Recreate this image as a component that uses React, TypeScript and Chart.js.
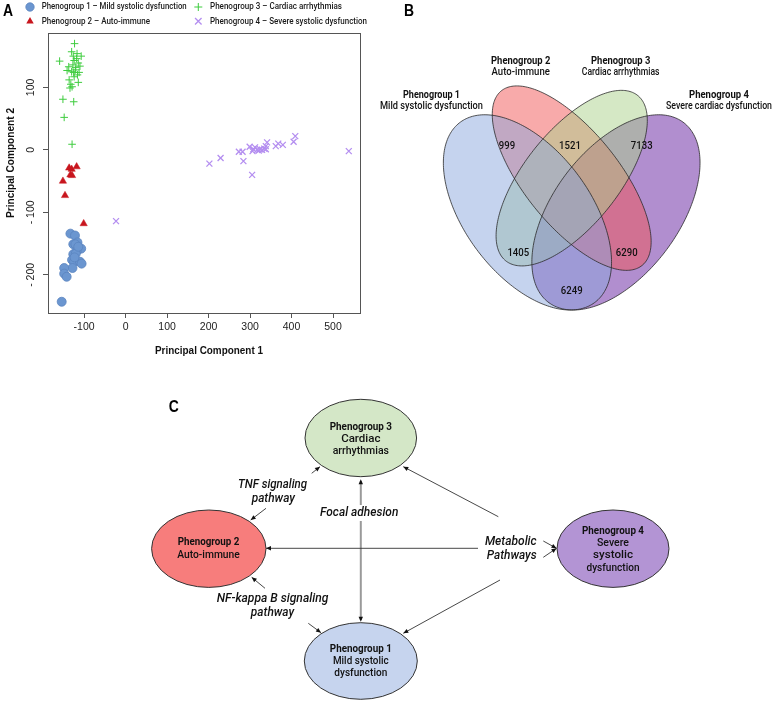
import React, { useEffect, useRef } from 'react';
import { Chart, registerables } from 'chart.js';

Chart.register(...registerables);

// ---------------- Panel A data ----------------
const pg1Points: [number, number][] = [
  [-133, -134], [-122, -137], [-116, -148], [-126, -151], [-121, -151], [-107, -158],
  [-118, -162], [-126, -167], [-120, -166], [-129, -176], [-124, -179], [-110, -179],
  [-106, -182], [-128, -189], [-148, -189], [-148, -198], [-142, -203], [-154, -243],
  [-114, -155], [-123, -172],
];
const pg2Points: [number, number][] = [
  [-136, -29], [-130, -31], [-118, -27], [-133, -40], [-129, -41], [-151, -50], [-146, -73], [-101, -118],
];
const pg3Points: [number, number][] = [
  [-123, 170], [-159, 142], [-130, 157], [-117, 154], [-107, 150], [-126, 150], [-124, 143],
  [-114, 139], [-110, 134], [-137, 133], [-120, 132], [-141, 127], [-130, 125], [-125, 124],
  [-112, 124], [-124, 117], [-136, 112], [-114, 108], [-132, 105], [-129, 101], [-134, 99],
  [-151, 81], [-125, 77], [-148, 52], [-129, 9], [-118, 146], [-121, 128], [-116, 120], [-127, 136],
];
const pg4Points: [number, number][] = [
  [-23, -114], [202, -22], [229, -13], [273, -3], [282, -3], [284, -18], [299, 5], [306, -2],
  [305, -40], [312, 4], [317, 0], [324, 1], [329, 0], [334, 2], [338, 1], [341, 12], [338, 6],
  [362, 6], [368, 10], [379, 8], [405, 13], [409, 22], [538, -2], [308, 1], [321, -1],
];
const xTicks = [-100, 0, 100, 200, 300, 400, 500];
const yTicks = [-200, -100, 0, 100];
const legendLabels = [
  'Phenogroup 1 – Mild systolic dysfunction',
  'Phenogroup 2 – Auto-immune',
  'Phenogroup 3 – Cardiac arrhythmias',
  'Phenogroup 4 – Severe systolic dysfunction',
];
const xTitle = 'Principal Component 1';
const yTitle = 'Principal Component 2';

// ---------------- Panel B data ----------------
const vennNames = ['Phenogroup 1', 'Phenogroup 2', 'Phenogroup 3', 'Phenogroup 4'];
const vennDescs = ['Mild systolic dysfunction', 'Auto-immune', 'Cardiac arrhythmias', 'Severe cardiac dysfunction'];
const vennPairs = ['1&2', '2&3', '3&4', '1&3', '2&4', '1&4'];
const vennCounts = [999, 1521, 7133, 1405, 6290, 6249];

// ---------------- Panel C data ----------------
const nodeTitles = ['Phenogroup 1', 'Phenogroup 2', 'Phenogroup 3', 'Phenogroup 4'];
const nodeLines = [
  ['Mild systolic', 'dysfunction'],
  ['Auto-immune'],
  ['Cardiac', 'arrhythmias'],
  ['Severe', 'systolic', 'dysfunction'],
];
const pathwayTNF = ['TNF signaling', 'pathway'];
const pathwayNFkB = ['NF-kappa B signaling', 'pathway'];
const pathwayFocal = ['Focal adhesion'];
const pathwayMetabolic = ['Metabolic', 'Pathways'];

// ---------------- styling ----------------
const DIN = 'Roboto, "Noto Sans", sans-serif';
const ARIAL = '"Liberation Sans", Arial, sans-serif';
const DEFAULT_K = 0.87;
const AXIS_COLOR = '#555';

function fitText(
  ctx: CanvasRenderingContext2D, s: string, x: number, y: number, font: string,
  w: number | null, align: CanvasTextAlign = 'center', color = '#111', rot = 0,
) {
  ctx.save();
  ctx.font = font;
  ctx.fillStyle = color;
  ctx.textBaseline = 'middle';
  ctx.textAlign = align;
  const m = ctx.measureText(s).width;
  const k = w ? w / m : DEFAULT_K;
  ctx.translate(x, y);
  if (rot) ctx.rotate(rot);
  ctx.scale(k, 1);
  ctx.fillText(s, 0, 0);
  ctx.restore();
}

function arrowHead(ctx: CanvasRenderingContext2D, x1: number, y1: number, x2: number, y2: number, len = 5, hw = 2.2) {
  const a = Math.atan2(y2 - y1, x2 - x1);
  ctx.save();
  ctx.fillStyle = '#111';
  ctx.beginPath();
  ctx.moveTo(x2, y2);
  ctx.lineTo(x2 - len * Math.cos(a) + hw * Math.sin(a), y2 - len * Math.sin(a) - hw * Math.cos(a));
  ctx.lineTo(x2 - len * Math.cos(a) - hw * Math.sin(a), y2 - len * Math.sin(a) + hw * Math.cos(a));
  ctx.closePath();
  ctx.fill();
  ctx.restore();
}

function arrow(ctx: CanvasRenderingContext2D, x1: number, y1: number, x2: number, y2: number, color = '#333', lw = 0.9) {
  ctx.save();
  ctx.strokeStyle = color;
  ctx.lineWidth = lw;
  ctx.beginPath();
  ctx.moveTo(x1, y1);
  ctx.lineTo(x2, y2);
  ctx.stroke();
  ctx.restore();
  arrowHead(ctx, x1, y1, x2, y2);
}

function drawMarker(ctx: CanvasRenderingContext2D, style: string, x: number, y: number, r: number, fill: string, stroke: string, lw: number) {
  ctx.save();
  ctx.fillStyle = fill;
  ctx.strokeStyle = stroke;
  ctx.lineWidth = lw;
  ctx.beginPath();
  if (style === 'circle') {
    ctx.arc(x, y, r, 0, Math.PI * 2);
    ctx.fill();
    ctx.stroke();
  } else if (style === 'triangle') {
    ctx.moveTo(x, y - r);
    ctx.lineTo(x + r * 0.866, y + r * 0.5);
    ctx.lineTo(x - r * 0.866, y + r * 0.5);
    ctx.closePath();
    ctx.fill();
  } else if (style === 'cross') {
    ctx.moveTo(x - r, y); ctx.lineTo(x + r, y);
    ctx.moveTo(x, y - r); ctx.lineTo(x, y + r);
    ctx.stroke();
  } else {
    const d = r * 0.707;
    ctx.moveTo(x - d, y - d); ctx.lineTo(x + d, y + d);
    ctx.moveTo(x + d, y - d); ctx.lineTo(x - d, y + d);
    ctx.stroke();
  }
  ctx.restore();
}

// Venn geometry (unit square mapped to pixels)
const VX = 571.7, VY = 86, VSX = 295, VSY = 342.5, VTOP = 0.839;
function vennPath(ctx: CanvasRenderingContext2D, cx: number, cy: number, a: number, b: number, rotDeg: number) {
  const th = (rotDeg * Math.PI) / 180;
  ctx.beginPath();
  for (let i = 0; i <= 240; i++) {
    const t = (i / 240) * Math.PI * 2;
    const u = cx + a * Math.cos(t) * Math.cos(th) - b * Math.sin(t) * Math.sin(th);
    const v = cy + a * Math.cos(t) * Math.sin(th) + b * Math.sin(t) * Math.cos(th);
    const x = VX + (u - 0.5) * VSX;
    const y = VY + (VTOP - v) * VSY;
    if (i === 0) ctx.moveTo(x, y); else ctx.lineTo(x, y);
  }
  ctx.closePath();
}

const panelsPlugin = {
  id: 'panels',
  afterDraw(chart: any) {
    const ctx: CanvasRenderingContext2D = chart.ctx;
    const ca = chart.chartArea;
    const ds = chart.data.datasets;

    // ---- Panel A extras ----
    ctx.save();
    ctx.strokeStyle = AXIS_COLOR;
    ctx.lineWidth = 1;
    ctx.strokeRect(Math.round(ca.left) + 0.5, Math.round(ca.top) + 0.5, Math.round(ca.right - ca.left), Math.round(ca.bottom - ca.top));
    ctx.restore();

    const ys = chart.scales.y;
    ys.ticks.forEach((t: any) => {
      const py = ys.getPixelForValue(t.value);
      const lbl = t.value < 0 ? '- ' + Math.abs(t.value) : String(t.value);
      ctx.save();
      ctx.font = `10.5px ${ARIAL}`;
      ctx.fillStyle = '#222';
      ctx.textAlign = 'center';
      ctx.textBaseline = 'middle';
      ctx.translate(31, py);
      ctx.rotate(-Math.PI / 2);
      ctx.fillText(lbl, 0, 0);
      ctx.restore();
    });

    fitText(ctx, xTitle, 209, 351.5, `bold 10.5px ${ARIAL}`, 108, 'center', '#111');
    fitText(ctx, yTitle, 11, 163, `bold 10.5px ${ARIAL}`, 110, 'center', '#111', -Math.PI / 2);

    // legend
    const legPos = [[30, 7, 41.7, 145], [30, 21.3, 41.7, 108.3], [198.3, 7, 210, 132], [198.3, 21.3, 210, 157]];
    const legR = [4.2, 4.3, 4, 4.6];
    ds.forEach((d: any, i: number) => {
      const [mx, my, tx, tw] = legPos[i];
      drawMarker(ctx, d.pointStyle, mx, my, legR[i], d.backgroundColor, d.borderColor, d.borderWidth);
      fitText(ctx, legendLabels[i], tx, my, `500 9px ${DIN}`, tw, 'left', '#1a1a1a');
    });

    // panel letters
    fitText(ctx, 'A', 8, 11.5, `bold 16px ${ARIAL}`, null, 'center', '#000');
    fitText(ctx, 'B', 409, 11.5, `bold 16px ${ARIAL}`, null, 'center', '#000');
    fitText(ctx, 'C', 173.7, 407.5, `bold 16px ${ARIAL}`, null, 'center', '#000');

    // ---- Panel B: Venn ----
    const ells: [number, number, number, number, number, string][] = [
      [0.35, 0.47, 0.35, 0.2, 135, 'rgba(139,167,221,0.5)'],
      [0.5, 0.57, 0.35, 0.15, 135, 'rgba(241,85,85,0.5)'],
      [0.5, 0.57, 0.33, 0.15, 45, 'rgba(171,209,139,0.5)'],
      [0.65, 0.47, 0.35, 0.2, 45, 'rgba(100,30,160,0.5)'],
    ];
    const fillOrder = [3, 1, 2, 0];
    fillOrder.forEach((i) => {
      const e = ells[i];
      vennPath(ctx, e[0], e[1], e[2], e[3], e[4]);
      ctx.fillStyle = e[5];
      ctx.fill();
    });
    ells.forEach((e) => {
      vennPath(ctx, e[0], e[1], e[2], e[3], e[4]);
      ctx.strokeStyle = '#2a2a2a';
      ctx.lineWidth = 0.8;
      ctx.stroke();
    });
    const countPos: Record<string, [number, number]> = {
      '1&2': [507, 146], '2&3': [570, 146], '3&4': [641.7, 146],
      '1&3': [518.3, 253.5], '2&4': [626.7, 253.5], '1&4': [571.7, 291],
    };
    vennPairs.forEach((p, i) => {
      const [x, y] = countPos[p];
      fitText(ctx, String(vennCounts[i]), x, y, `500 11px ${DIN}`, null, 'center', '#111');
    });
    const setLabelPos: [number, number, number, number][] = [
      [431.5, 95, 57, 103], [520.7, 61, 59.3, 58.3], [620.7, 61, 59.3, 77.7], [719, 95, 60, 106],
    ];
    vennNames.forEach((n, i) => {
      const [x, y, w1, w2] = setLabelPos[i];
      fitText(ctx, n, x, y, `bold 10.5px ${DIN}`, w1, 'center', '#111');
      fitText(ctx, vennDescs[i], x, y + 11, `500 10.5px ${DIN}`, w2, 'center', '#111');
    });

    // ---- Panel C: network ----
    const nodes: [number, number, number, number, string][] = [
      [360.8, 661, 56.5, 38.3, '#c6d4ee'],
      [208.8, 548.7, 57.2, 38.7, '#f77d7c'],
      [360.8, 438, 55.8, 38.7, '#d4e7c7'],
      [613, 548.7, 56, 38.7, '#b394d4'],
    ];

    // vertical focal adhesion double arrow (gray)
    ctx.save();
    ctx.strokeStyle = '#9a9a9a';
    ctx.lineWidth = 2;
    ctx.beginPath();
    ctx.moveTo(360.8, 481);
    ctx.lineTo(360.8, 620);
    ctx.stroke();
    ctx.restore();
    arrowHead(ctx, 360.8, 500, 360.8, 479.3);
    arrowHead(ctx, 360.8, 600, 360.8, 621.8);

    // metabolic arrows
    arrow(ctx, 478, 548.3, 266, 548.3, '#333', 0.9);
    arrow(ctx, 498.3, 516.7, 403.3, 466.7, '#333', 0.9);
    arrow(ctx, 500, 580, 403.3, 633.3, '#333', 0.9);
    arrow(ctx, 543.3, 541, 556.5, 548.3, '#333', 0.9);
    arrow(ctx, 543.3, 557.3, 556.5, 548.3, '#333', 0.9);
    // TNF / NF-kB arrows
    arrow(ctx, 311.7, 473.3, 320, 466.7, '#333', 0.9);
    arrow(ctx, 266, 508.3, 250.7, 520, '#333', 0.9);
    arrow(ctx, 265, 588.3, 251.7, 577.3, '#333', 0.9);
    arrow(ctx, 308.3, 623.3, 321, 632.7, '#333', 0.9);

    // nodes
    nodes.forEach((n) => {
      ctx.save();
      ctx.beginPath();
      ctx.ellipse(n[0], n[1], n[2], n[3], 0, 0, Math.PI * 2);
      ctx.fillStyle = n[4];
      ctx.fill();
      ctx.strokeStyle = '#333';
      ctx.lineWidth = 1;
      ctx.stroke();
      ctx.restore();
    });

    const nodeText: { x: number; ys: number[]; ws: (number | null)[] }[] = [
      { x: 360.8, ys: [649.3, 661.7, 673.5], ws: [62, 55.7, 53] },
      { x: 208.5, ys: [542.7, 555.7], ws: [61.7, 62.7] },
      { x: 360.8, ys: [427.3, 439.5, 451.7], ws: [62.3, 39.3, 56.3] },
      { x: 613, ys: [531, 543, 555.7, 568.7], ws: [62, 32, 40, 53] },
    ];
    nodeTitles.forEach((t, i) => {
      const nt = nodeText[i];
      fitText(ctx, t, nt.x, nt.ys[0], `bold 11px ${DIN}`, nt.ws[0], 'center', '#111');
      nodeLines[i].forEach((l, j) => {
        fitText(ctx, l, nt.x, nt.ys[j + 1], `500 11px ${DIN}`, nt.ws[j + 1], 'center', '#111');
      });
    });

    // pathway labels
    const IT = `italic 500 12px ${DIN}`;
    ctx.save();
    ctx.fillStyle = '#fff';
    ctx.fillRect(318, 505, 83, 16);
    ctx.restore();
    fitText(ctx, pathwayFocal[0], 359.2, 513.3, IT, 78.3, 'center', '#111');
    fitText(ctx, pathwayTNF[0], 272.5, 485, IT, 69, 'center', '#111');
    fitText(ctx, pathwayTNF[1], 273.3, 498.5, IT, 43.3, 'center', '#111');
    fitText(ctx, pathwayNFkB[0], 272.5, 599, IT, 111.7, 'center', '#111');
    fitText(ctx, pathwayNFkB[1], 272.5, 613.3, IT, 43.3, 'center', '#111');
    fitText(ctx, pathwayMetabolic[0], 510.8, 541.7, IT, 51.7, 'center', '#111');
    fitText(ctx, pathwayMetabolic[1], 511.7, 556, IT, 50, 'center', '#111');
  },
};

const toXY = (pts: [number, number][]) => pts.map(([x, y]) => ({ x, y }));

export default function App() {
  const ref = useRef<HTMLCanvasElement>(null);
  useEffect(() => {
    const canvas = ref.current!;
    const gridOpts = { display: true, drawOnChartArea: false, drawTicks: true, tickLength: 5, color: AXIS_COLOR, lineWidth: 1 };
    const chart = new Chart(canvas, {
      type: 'scatter',
      data: {
        datasets: [
          { label: legendLabels[0], data: toXY(pg1Points), pointStyle: 'circle', pointRadius: 4.5, backgroundColor: '#6b96d0', borderColor: '#5a84bf', borderWidth: 0.8 },
          { label: legendLabels[1], data: toXY(pg2Points), pointStyle: 'triangle', pointRadius: 4.2, backgroundColor: '#c8161e', borderColor: '#c8161e', borderWidth: 0.5 },
          { label: legendLabels[2], data: toXY(pg3Points), pointStyle: 'cross', pointRadius: 3.8, backgroundColor: '#3fcc3f', borderColor: '#3fcc3f', borderWidth: 1 },
          { label: legendLabels[3], data: toXY(pg4Points), pointStyle: 'crossRot', pointRadius: 4.2, backgroundColor: '#b48ef0', borderColor: '#b48ef0', borderWidth: 1.3 },
        ] as any,
      },
      options: {
        responsive: false,
        animation: false,
        devicePixelRatio: 1,
        layout: { padding: { left: 8, top: 33, right: 420, bottom: 349 } },
        plugins: { legend: { display: false }, tooltip: { enabled: false } },
        scales: {
          x: {
            type: 'linear',
            min: -187,
            max: 565,
            afterBuildTicks: (s: any) => { s.ticks = xTicks.map((v) => ({ value: v })); },
            afterFit: (s: any) => { s.height = 40; },
            grid: gridOpts,
            border: { display: false },
            ticks: {
              font: { family: ARIAL, size: 10.5 },
              color: '#222',
              padding: 3,
              maxRotation: 0,
              autoSkip: false,
              callback: (v: any) => (Number(v) < 0 ? '-' + Math.abs(Number(v)) : String(v)),
            },
          },
          y: {
            type: 'linear',
            min: -261,
            max: 187,
            afterBuildTicks: (s: any) => { s.ticks = yTicks.map((v) => ({ value: v })); },
            afterFit: (s: any) => { s.width = 40; },
            grid: gridOpts,
            border: { display: false },
            ticks: { display: false },
          },
        },
      } as any,
      plugins: [panelsPlugin],
    });
    return () => chart.destroy();
  }, []);
  return (
    <canvas
      ref={ref}
      width={780}
      height={702}
      style={{ position: 'absolute', left: 0, top: 0, width: 780, height: 702, background: '#fff' }}
    />
  );
}
